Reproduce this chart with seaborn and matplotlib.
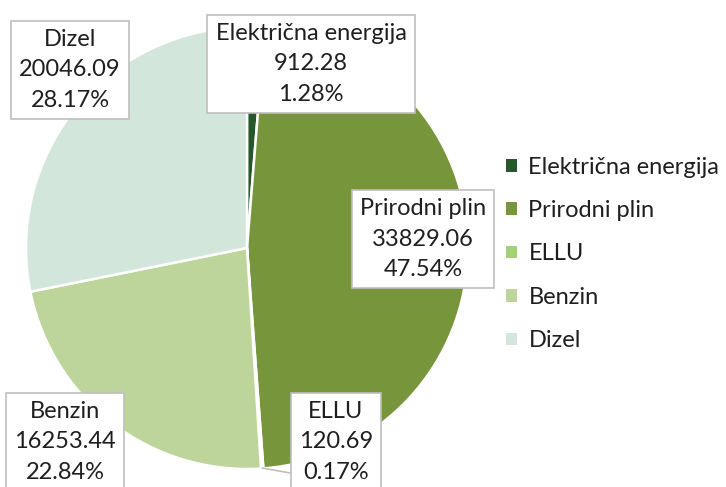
import matplotlib
matplotlib.use("Agg")
import matplotlib.pyplot as plt
import seaborn as sns
from matplotlib.patches import Patch

categories = ["Električna energija", "Prirodni plin", "ELLU", "Benzin", "Dizel"]
values = [912.28, 33829.06, 120.69, 16253.44, 20046.09]
percents = ["1.28%", "47.54%", "0.17%", "22.84%", "28.17%"]
value_labels = ["912.28", "33829.06", "120.69", "16253.44", "20046.09"]
colors = ["#27582b", "#77963b", "#a2d17a", "#bdd59a", "#d3e6dc"]

sns.set_theme(style="white")
plt.rcParams["font.family"] = ["Lato", "DejaVu Sans"]

W, H = 726, 487
fig = plt.figure(figsize=(W / 100, H / 100), dpi=100)
ax = fig.add_axes([0, 0, 1, 1])

cx, cy, r = 247, H - 248, 221
ax.pie(values, colors=colors, startangle=90, counterclock=False,
       center=(cx, cy), radius=r,
       wedgeprops=dict(edgecolor="white", linewidth=1.8))
ax.set_xlim(0, W)
ax.set_ylim(0, H)
ax.set_aspect("equal")
ax.axis("off")

# label positions (pixel centers)
label_pos = [(311, 64), (423, 239), (336, 442), (65, 442), (70, 70)]
for name, vl, pc, (px, py) in zip(categories, value_labels, percents, label_pos):
    ax.text(px, H - py, f"{name}\n{vl}\n{pc}", ha="center", va="center",
            fontsize=17, color="#1f1f1f", linespacing=1.55,
            bbox=dict(boxstyle="square,pad=0.35", fc="white", ec="#bfbfbf", lw=1.2),
            zorder=5)

# leader line for ELLU
ax.plot([262, 296], [H - 468, H - 474], color="#bfbfbf", lw=1.2, zorder=4)

handles = [Patch(facecolor=c, edgecolor="none") for c in colors]
leg = fig.legend(handles, categories, loc="center left",
                 bbox_to_anchor=(506 / W, 1 - 254 / H), frameon=False,
                 fontsize=17, handlelength=0.45, handleheight=0.45,
                 handletextpad=0.5, labelspacing=0.95, borderaxespad=0,
                 borderpad=0)
for t in leg.get_texts():
    t.set_color("#1f1f1f")

fig.savefig("out.png", dpi=100)
